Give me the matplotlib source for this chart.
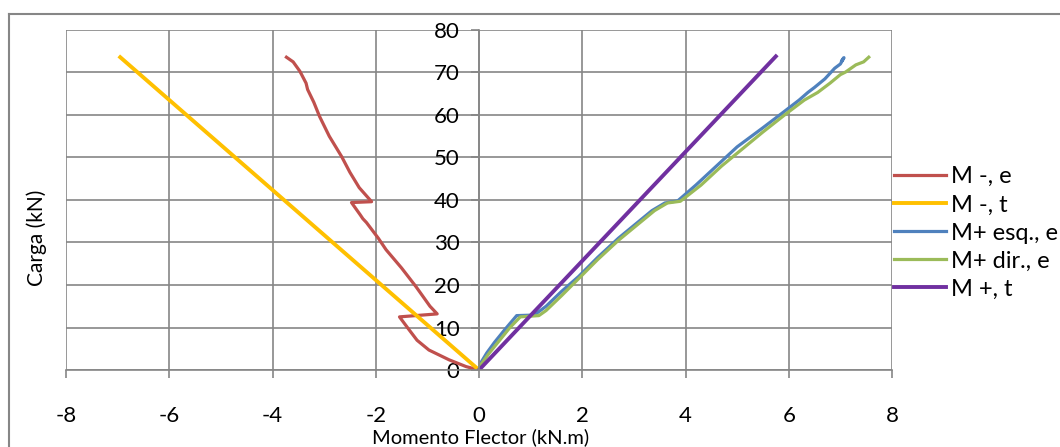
import numpy as np
import matplotlib.pyplot as plt
from matplotlib.lines import Line2D

plt.rcParams['font.family'] = ['Lato', 'DejaVu Sans']
plt.rcParams['axes.unicode_minus'] = False

# M -, e (ensaio)
m_neg_e_x = [0, -0.25, -0.58, -0.97, -1.2, -1.35, -1.54, -0.81, -0.95, -1.22, -1.5, -1.8,
             -1.95, -2.18, -2.25, -2.3, -2.47, -2.08, -2.32, -2.5, -2.66, -2.9, -3.09,
             -3.2, -3.32, -3.35, -3.47, -3.6, -3.73]
m_neg_e_y = [0, 0.8, 2.4, 4.7, 7.0, 9.4, 12.5, 13.2, 15.0, 19.6, 24.0, 28.3,
             31.0, 34.7, 35.6, 36.5, 39.4, 39.6, 42.9, 46.5, 50.2, 55.0, 59.7,
             63.0, 66.0, 67.5, 70.3, 72.5, 73.6]

# M -, t (teorico)
m_neg_t_x = [0, -6.95]
m_neg_t_y = [0, 73.6]

# M+ esq., e
m_esq_x = [0, 0.05, 0.15, 0.3, 0.5, 0.73, 1.0, 1.1, 1.3, 1.6, 1.93, 2.3, 2.7, 3.1, 3.35,
           3.6, 3.85, 4.2, 4.6, 5.0, 5.5, 5.9, 6.2, 6.37, 6.5, 6.7, 6.89, 7.0, 7.07, 7.02, 7.05]
m_esq_y = [0, 2.0, 4.0, 6.5, 9.5, 12.8, 12.9, 13.2, 15.0, 18.5, 22.0, 26.5, 31.0, 35.0, 37.5,
           39.3, 39.8, 43.5, 48.0, 52.5, 57.0, 60.7, 63.5, 65.3, 66.5, 68.5, 71.0, 72.0, 73.5, 72.6, 73.2]

# M+ dir., e
m_dir_x = [0, 0.05, 0.2, 0.4, 0.6, 0.8, 1.16, 1.3, 1.6, 1.93, 2.3, 2.7, 3.1, 3.4, 3.65,
           3.9, 4.3, 4.7, 5.1, 5.5, 5.95, 6.3, 6.56, 6.8, 7.0, 7.1, 7.3, 7.45, 7.55]
m_dir_y = [0, 1.5, 4.0, 7.0, 10.0, 12.5, 12.8, 14.0, 17.5, 21.5, 26.0, 30.5, 34.5, 37.5, 39.3,
           39.7, 43.5, 48.0, 52.0, 56.0, 60.3, 63.5, 65.3, 67.5, 69.5, 70.1, 71.8, 72.5, 73.6]

# M +, t
m_pos_t_x = [0, 5.75]
m_pos_t_y = [0, 73.8]

labels = ['M -, e', 'M -, t', 'M+ esq., e', 'M+ dir., e', 'M +, t']
cores = ['#C0504D', '#FFC000', '#4F81BD', '#9BBB59', '#7030A0']
gray = '#868686'

fig = plt.figure(figsize=(10.6, 4.47), dpi=100)
ax = fig.add_axes([66 / 1060, 1 - 370 / 447, (892 - 66) / 1060, (370 - 30) / 447])

ax.plot(m_neg_e_x, m_neg_e_y, color=cores[0], lw=2.3, label=labels[0])
ax.plot(m_neg_t_x, m_neg_t_y, color=cores[1], lw=2.8, label=labels[1])
ax.plot(m_esq_x, m_esq_y, color=cores[2], lw=2.3, label=labels[2])
ax.plot(m_dir_x, m_dir_y, color=cores[3], lw=2.3, label=labels[3])
ax.plot(m_pos_t_x, m_pos_t_y, color=cores[4], lw=2.8, label=labels[4])

ax.set_xlim(-8, 8)
ax.set_ylim(0, 80)
ax.set_xticks(np.arange(-8, 9, 2))
ax.set_yticks(np.arange(0, 81, 10))
ax.grid(True, color=gray, lw=1.2)
ax.set_axisbelow(True)

for s in ['top', 'right']:
    ax.spines[s].set_visible(False)
ax.spines['left'].set_position(('data', 0))
ax.spines['left'].set_color(gray)
ax.spines['bottom'].set_color(gray)
ax.spines['left'].set_linewidth(1.2)
ax.spines['bottom'].set_linewidth(1.2)
ax.tick_params(axis='both', color=gray, width=1.2, length=6, labelsize=16)
ax.tick_params(axis='x', pad=20)
ax.tick_params(axis='y', pad=8)

fig.text(37 / 1060, 1 - 238 / 447, 'Carga (kN)', rotation=90, ha='center', va='center', fontsize=15)
fig.text(481 / 1060, 1 - 437 / 447, 'Momento Flector (kN.m)', ha='center', va='center', fontsize=14.5)

fig.legend(loc='center left', bbox_to_anchor=(894 / 1060, 1 - 233 / 447), frameon=False,
           fontsize=17, handlelength=2.2, handletextpad=0.2, labelspacing=0.3, borderpad=0,
           borderaxespad=0)

# moldura do grafico
fig.add_artist(Line2D([9 / 1060, 9 / 1060], [0, 1 - 14 / 447], color=gray, lw=1.5))
fig.add_artist(Line2D([9 / 1060, 1], [1 - 14 / 447, 1 - 14 / 447], color=gray, lw=1.5))

fig.savefig('out.png', dpi=100)
